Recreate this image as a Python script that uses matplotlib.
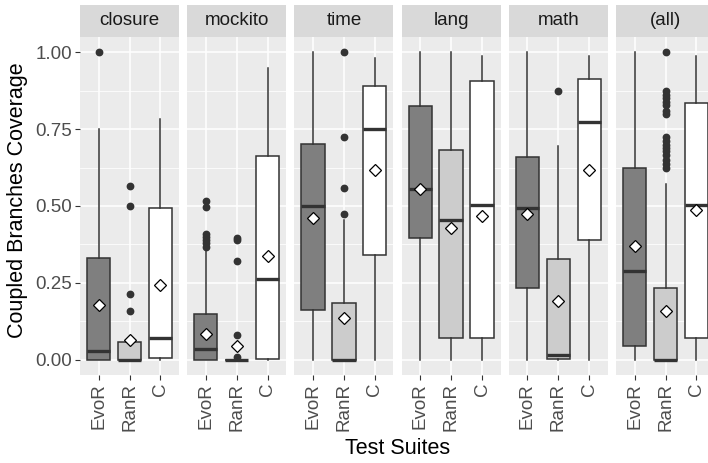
import matplotlib
matplotlib.use("Agg")
import matplotlib.pyplot as plt

plt.rcParams['font.family'] = ['Liberation Sans', 'DejaVu Sans']

facets = ["closure", "mockito", "time", "lang", "math", "(all)"]
suites = ["EvoR", "RanR", "C"]

# box statistics per facet: [EvoR, RanR, C]
q1 = [[0.0, 0.0, 0.005], [0.0, 0.0, 0.003], [0.162, 0.0, 0.339],
      [0.395, 0.07, 0.07], [0.232, 0.002, 0.388], [0.045, 0.0, 0.07]]
med = [[0.029, 0.0, 0.07], [0.035, 0.0, 0.263], [0.501, 0.0, 0.75],
       [0.556, 0.455, 0.502], [0.493, 0.016, 0.775], [0.289, 0.0, 0.504]]
q3 = [[0.332, 0.058, 0.494], [0.149, 0.0, 0.663], [0.701, 0.184, 0.892],
      [0.825, 0.681, 0.907], [0.661, 0.328, 0.914], [0.623, 0.232, 0.835]]
whislo = [[0.0, 0.0, 0.0]] * 6
whishi = [[0.75, 0.058, 0.783], [0.358, 0.0, 0.948], [1.0, 0.455, 0.981],
          [1.0, 1.0, 0.989], [1.0, 0.694, 0.989], [1.0, 0.572, 0.989]]
means = [[0.178, 0.065, 0.242], [0.085, 0.043, 0.336], [0.461, 0.136, 0.618],
         [0.556, 0.430, 0.466], [0.475, 0.190, 0.618], [0.371, 0.157, 0.488]]
outliers = [
    [[1.0], [0.566, 0.499, 0.215, 0.159], []],
    [[0.517, 0.498, 0.41, 0.40, 0.39, 0.38, 0.368], [0.396, 0.39, 0.322, 0.08, 0.0075], []],
    [[], [1.0, 0.724, 0.557, 0.474], []],
    [[], [], []],
    [[], [0.875], []],
    [[], [1.0, 0.875, 0.86, 0.85, 0.84, 0.83, 0.81, 0.80, 0.726, 0.71, 0.70,
          0.69, 0.68, 0.665, 0.65, 0.636, 0.623], []],
]
fills = ["#7F7F7F", "#CCCCCC", "#FFFFFF"]

W, H = 708, 463
fig = plt.figure(figsize=(W / 100, H / 100), dpi=100)

def px(x, y, w, h):
    return [x / W, 1 - (y + h) / H, w / W, h / H]

for i, name in enumerate(facets):
    left = 80 + i * 107.2
    ax = fig.add_axes(px(left, 37, 99, 338))
    ax.set_facecolor("#EBEBEB")
    stats = []
    for j, s in enumerate(suites):
        stats.append(dict(label=s, q1=q1[i][j], med=med[i][j], q3=q3[i][j],
                          whislo=whislo[i][j], whishi=whishi[i][j],
                          mean=means[i][j], fliers=outliers[i][j]))
    bp = ax.bxp(stats, positions=[1, 2, 3], widths=0.75, patch_artist=True,
                showmeans=True, showcaps=False,
                boxprops=dict(edgecolor="#333333", linewidth=1.1),
                whiskerprops=dict(color="#333333", linewidth=1.1),
                medianprops=dict(color="#333333", linewidth=2.4),
                flierprops=dict(marker="o", markerfacecolor="#333333",
                                markeredgecolor="#333333", markersize=4.6),
                meanprops=dict(marker="D", markerfacecolor="white",
                               markeredgecolor="black", markersize=5.8,
                               markeredgewidth=0.9))
    for patch, c in zip(bp["boxes"], fills):
        patch.set_facecolor(c)
    ax.set_xlim(0.4, 3.6)
    ax.set_ylim(-0.05, 1.05)
    ax.set_yticks([0, 0.25, 0.5, 0.75, 1.0])
    ax.set_yticks([0.125, 0.375, 0.625, 0.875], minor=True)
    ax.grid(True, which="major", color="white", linewidth=1.1)
    ax.grid(True, which="minor", axis="y", color="white", linewidth=0.55)
    ax.set_axisbelow(True)
    for sp in ax.spines.values():
        sp.set_visible(False)
    ax.tick_params(axis="both", which="major", length=3.6, width=0.8,
                   color="#333333", labelcolor="#4D4D4D", labelsize=13.5, pad=2)
    ax.tick_params(axis="y", which="minor", length=0)
    ax.set_xticks([1, 2, 3])
    ax.set_xticklabels(suites, rotation=90)
    if i == 0:
        ax.set_yticklabels(["0.00", "0.25", "0.50", "0.75", "1.00"])
    else:
        ax.tick_params(axis="y", which="major", length=0, labelleft=False)
    # facet strip
    sax = fig.add_axes(px(left, 5, 99, 31.5))
    sax.set_facecolor("#D9D9D9")
    sax.set_xticks([])
    sax.set_yticks([])
    for sp in sax.spines.values():
        sp.set_visible(False)
    sax.text(0.5, 0.5, name, ha="center", va="center", fontsize=13.5,
             color="#1A1A1A", transform=sax.transAxes)

fig.text(18 / W, 1 - 200 / H, "Coupled Branches Coverage", rotation=90,
         ha="center", va="center", fontsize=15.5, color="black")
fig.text(397.5 / W, 1 - 448 / H, "Test Suites", ha="center", va="center",
         fontsize=15.5, color="black")

fig.savefig("out.png", dpi=100)
